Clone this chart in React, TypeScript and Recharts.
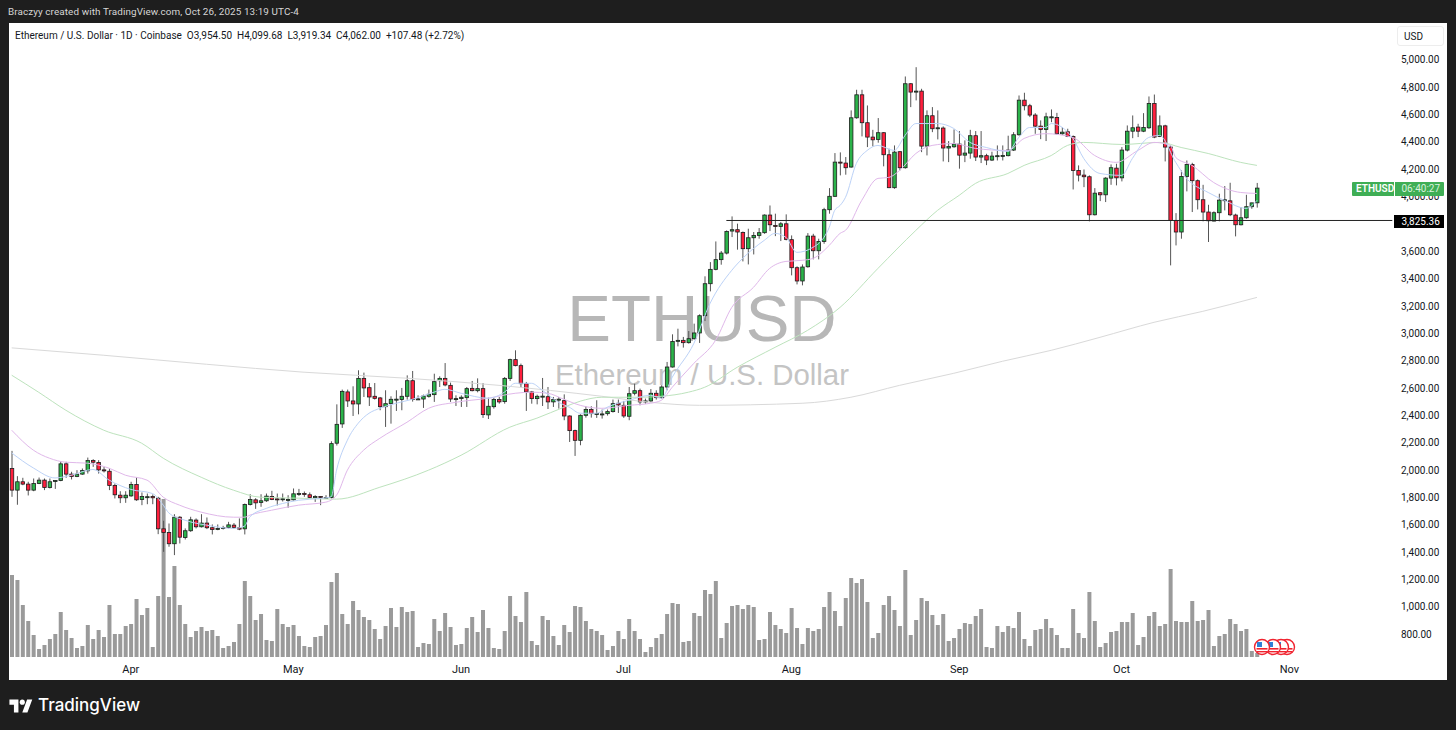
import { Bar, ComposedChart, Line, ReferenceLine, XAxis, YAxis } from 'recharts';

const opens = [
  2012,1854,1915,1898,1854,1902,1927,1873,1917,1924,
  2046,1971,1954,1971,1995,2070,2056,2002,1992,1888,
  1817,1798,1812,1895,1785,1805,1807,1795,1571,1544,
  1462,1656,1508,1557,1635,1586,1613,1579,1569,1574,
  1581,1598,1579,1571,1749,1783,1764,1776,1807,1790,
  1790,1785,1783,1829,1829,1820,1798,1807,1800,1800,
  2197,2338,2572,2506,2484,2671,2603,2540,2528,2464,
  2486,2518,2516,2540,2654,2520,2520,2540,2552,2654,
  2671,2620,2523,2523,2530,2598,2581,2596,2404,2464,
  2516,2501,2671,2808,2764,2632,2572,2523,2540,2537,
  2499,2518,2508,2396,2289,2218,2401,2443,2413,2411,
  2413,2428,2489,2474,2394,2562,2581,2499,2506,2562,
  2530,2608,2754,2942,2949,2932,2961,3003,3129,3363,
  3468,3539,3587,3748,3758,3738,3619,3699,3716,3736,
  3865,3789,3782,3801,3685,3480,3383,3487,3711,3604,
  3672,3904,4002,4252,4245,4216,4576,4744,4540,4435,
  4418,4467,4306,4065,4328,4211,4825,4771,4771,4369,
  4591,4503,4501,4355,4364,4384,4303,4318,4445,4289,
  4299,4267,4299,4301,4299,4340,4452,4705,4664,4596,
  4515,4491,4583,4578,4459,4474,4439,4191,4157,4145,
  3867,4028,4013,4135,4208,4137,4340,4478,4508,4478,
  4503,4681,4439,4517,4362,3826,3741,4147,4235,4116,
  3977,3887,3821,3882,3977,3969,3865,3794,3845,3926,3954.5,
];
const highs = [
  2141,1956,1944,1915,1939,1946,1939,1939,1927,2066,
  2061,1988,2000,2012,2092,2080,2073,2024,2012,1902,
  1846,1846,1915,1946,1837,1829,1822,1805,1630,1610,
  1678,1664,1574,1659,1647,1678,1654,1603,1603,1593,
  1622,1613,1647,1756,1824,1795,1824,1829,1849,1829,
  1829,1817,1866,1863,1844,1837,1817,1810,1817,2211,
  2481,2589,2589,2613,2730,2713,2637,2637,2535,2584,
  2540,2584,2601,2693,2725,2547,2552,2589,2705,2686,
  2783,2640,2547,2547,2608,2652,2671,2637,2530,2530,
  2535,2681,2815,2876,2779,2645,2579,2552,2674,2608,
  2535,2535,2554,2401,2296,2408,2467,2467,2511,2443,
  2443,2516,2516,2506,2608,2632,2596,2523,2593,2584,
  2621,2791,2993,3034,2974,3017,3071,3139,3417,3521,
  3672,3602,3753,3855,3802,3745,3765,3741,3770,3870,
  3935,3875,3814,3870,3716,3490,3504,3733,3728,3692,
  3918,4062,4318,4323,4289,4630,4781,4781,4666,4488,
  4574,4471,4350,4374,4333,4878,4829,4946,4788,4630,
  4654,4630,4513,4406,4491,4479,4411,4488,4479,4479,
  4313,4328,4374,4374,4445,4471,4739,4759,4678,4610,
  4557,4613,4637,4612,4508,4496,4447,4228,4198,4155,
  4062,4033,4142,4235,4240,4362,4520,4593,4532,4610,
  4732,4746,4593,4525,4374,3879,4191,4264,4247,4125,
  4086,3940,3892,4021,4077,4101,3875,3923,4013,3955,4099.68,
];
const lows = [
  1805,1747,1890,1815,1846,1898,1854,1866,1863,1919,
  1944,1932,1949,1966,1975,2024,1975,1983,1854,1793,
  1759,1761,1805,1776,1744,1751,1751,1532,1403,1440,
  1379,1464,1493,1549,1574,1581,1569,1530,1561,1566,
  1574,1571,1561,1530,1742,1717,1732,1768,1781,1742,
  1771,1725,1778,1812,1805,1793,1768,1744,1793,1793,
  2180,2309,2462,2396,2408,2535,2469,2516,2438,2316,
  2340,2433,2438,2516,2501,2516,2455,2530,2499,2608,
  2613,2499,2469,2462,2462,2576,2569,2382,2374,2450,
  2486,2486,2652,2759,2608,2433,2486,2481,2469,2447,
  2462,2450,2365,2206,2104,2182,2384,2384,2382,2377,
  2399,2421,2418,2382,2365,2547,2474,2486,2496,2516,
  2523,2584,2750,2905,2896,2925,2954,2930,3090,3307,
  3461,3502,3577,3704,3612,3526,3504,3577,3692,3728,
  3748,3711,3675,3680,3424,3358,3351,3480,3541,3541,
  3655,3875,3997,4155,4160,4211,4569,4440,4362,4367,
  4394,4221,4062,4057,4191,4204,4654,4703,4325,4301,
  4471,4418,4257,4252,4357,4204,4252,4277,4260,4245,
  4230,4260,4264,4264,4294,4333,4445,4630,4581,4459,
  4420,4406,4544,4452,4452,4435,4052,4111,4069,3819,
  3862,3967,3960,4086,4082,4111,4330,4427,4435,4471,
  4495,4427,4435,4257,3497,3643,3692,4038,3887,3906,
  3819,3668,3819,3819,3899,3857,3709,3789,3838,3911,3919.34,
];
const closes = [
  1854,1915,1898,1854,1902,1927,1873,1915,1924,2046,
  1971,1954,1971,1997,2070,2058,2002,1995,1888,1820,
  1798,1817,1895,1783,1807,1806,1798,1571,1544,1462,
  1656,1510,1557,1637,1586,1613,1579,1566,1574,1581,
  1600,1581,1569,1749,1785,1761,1776,1810,1785,1785,
  1791,1786,1827,1829,1822,1800,1807,1806,1800,2194,
  2335,2576,2506,2484,2671,2601,2535,2525,2464,2486,
  2518,2519,2540,2654,2516,2521,2542,2555,2647,2671,
  2623,2520,2523,2533,2596,2581,2596,2406,2467,2516,
  2499,2671,2808,2764,2632,2572,2523,2540,2541,2499,
  2516,2519,2396,2289,2218,2401,2443,2413,2414,2411,
  2428,2486,2477,2396,2559,2581,2499,2506,2562,2530,
  2608,2754,2940,2949,2932,2961,3003,3129,3363,3468,
  3539,3587,3745,3758,3741,3619,3699,3716,3736,3865,
  3794,3784,3801,3687,3480,3383,3485,3711,3604,3672,
  3904,4002,4252,4245,4211,4576,4744,4540,4435,4415,
  4467,4306,4065,4325,4211,4825,4764,4771,4369,4591,
  4496,4503,4355,4367,4384,4303,4318,4445,4289,4299,
  4267,4296,4299,4301,4340,4452,4705,4664,4596,4515,
  4491,4583,4583,4459,4471,4439,4191,4157,4145,3867,
  4025,4013,4135,4211,4137,4340,4478,4503,4478,4505,
  4681,4435,4517,4362,3826,3741,4147,4235,4116,3977,
  3887,3823,3882,3974,3977,3867,3794,3845,3926,3954,4062,
];
const volumes = [
  82,77,52,36,22,8,12,18,23,45,
  27,19,9,11,32,18,27,20,52,23,
  23,31,33,58,42,49,10,61,158,60,
  91,52,33,20,26,30,26,27,21,9,
  11,15,33,76,61,37,43,17,16,48,
  33,30,32,21,11,10,20,21,32,75,
  84,43,33,56,47,40,37,28,18,31,
  49,30,50,45,46,10,14,13,38,26,
  44,30,12,13,29,40,25,47,29,9,
  8,26,61,41,35,65,16,12,41,37,
  21,12,32,25,51,50,36,28,26,22,
  7,11,26,18,38,26,18,5,10,19,
  23,43,54,53,15,16,44,41,67,63,
  76,19,34,51,52,48,52,50,17,18,
  45,32,28,24,49,29,13,29,26,28,
  50,65,46,31,59,79,74,78,55,19,
  24,52,61,47,31,87,22,37,59,56,
  42,32,43,16,19,28,34,33,41,48,
  10,9,31,25,31,29,45,18,11,27,
  28,38,29,22,9,9,48,24,19,65,
  36,10,14,25,26,35,35,44,12,20,
  41,45,31,33,88,36,35,35,56,36,
  37,47,11,21,23,38,33,26,28,6,4,
];

// moving averages at the days listed
const fastDays = [0,4,8,11,15,18,22,26,28,29,32,36,41,43,44,47,50,53,57,59,60,62,64,66,68,71,74,78,80,83,88,91,93,96,98,101,103,105,108,110,114,118,120,122,126,129,133,135,139,141,143,145,148,150,151,152,153,154,156,158,160,163,165,167,171,174,177,180,184,186,188,191,192,196,198,201,205,207,210,212,215,217,221,224,228,230];
const fastValues = [2126,2016,1943,1963,2005,1927,1859,1829,1744,1688,1634,1598,1574,1591,1659,1720,1756,1780,1793,1805,2000,2219,2343,2416,2452,2489,2518,2570,2591,2562,2526,2570,2635,2635,2584,2496,2460,2416,2416,2460,2511,2547,2526,2679,2927,3220,3461,3548,3680,3731,3702,3592,3629,3700,3775,3899,3935,3994,4242,4337,4374,4337,4447,4534,4534,4498,4396,4359,4330,4432,4505,4505,4534,4425,4279,4169,4155,4279,4432,4447,4250,4133,4030,3972,3914,3972];
const midDays = [0,4,7,10,14,18,21,25,28,31,35,41,43,44,48,53,58,60,62,65,68,73,77,82,88,93,96,99,102,105,109,114,118,120,122,126,130,133,137,140,143,146,148,151,153,154,157,160,162,164,167,170,174,178,184,187,191,196,200,204,208,211,214,215,218,222,227,230];
const midValues = [2292,2146,2087,2058,2051,2014,1963,1927,1802,1744,1693,1656,1656,1671,1707,1744,1766,1817,2000,2146,2233,2350,2452,2496,2526,2562,2570,2562,2518,2474,2452,2474,2489,2511,2606,2781,2949,3190,3336,3475,3526,3534,3548,3643,3731,3753,3972,4133,4140,4191,4315,4374,4388,4352,4337,4425,4460,4432,4301,4250,4337,4396,4374,4286,4228,4103,4030,4023];
const slowDays = [0,5,10,17,24,28,35,41,46,53,60,68,77,83,92,97,102,105,109,112,116,120,125,128,134,141,147,153,160,167,171,175,178,184,187,192,195,198,205,212,216,221,227,230];
const slowValues = [2694,2569,2438,2292,2197,2087,1948,1853,1802,1795,1788,1875,2000,2109,2314,2380,2460,2504,2533,2533,2533,2540,2570,2606,2752,2898,3022,3190,3475,3753,3899,4009,4096,4169,4228,4300,4374,4396,4381,4396,4359,4315,4250,4228];
const longDays = [0,17,36,54,73,90,109,118,127,146,155,164,174,183,192,201,211,220,230];
const longValues = [2894,2840,2774,2716,2672,2620,2540,2496,2474,2489,2533,2620,2708,2796,2876,2971,3081,3161,3263];

const priceTicks = [800,1000,1200,1400,1600,1800,2000,2200,2400,2600,2800,3000,3200,3400,3600,4000,4200,4400,4600,4800,5000];
const monthDays = [22,52,83,113,144,175,205,236];
const monthLabels = ['Apr','May','Jun','Jul','Aug','Sep','Oct','Nov'];
const levelPrice = 3825.36;
const levelStartDay = 132;
const rowCount = 256;

const pick = (days: number[], values: number[], day: number) => {
  const at = days.indexOf(day);
  return at < 0 ? null : values[at];
};

const rows = Array.from({ length: rowCount }, (_, day) => ({
  day,
  open: opens[day],
  high: highs[day],
  low: lows[day],
  close: closes[day],
  range: day < opens.length ? [lows[day], highs[day]] : null,
  volume: day < volumes.length ? volumes[day] : null,
  fast: pick(fastDays, fastValues, day),
  mid: pick(midDays, midValues, day),
  slow: pick(slowDays, slowValues, day),
  long: pick(longDays, longValues, day),
}));

const UI_FONT = 'Roboto, Arial, sans-serif';
const INK = '#131722';

function Candle(props: any) {
  const { x, y, width, height, payload } = props;
  if (!payload || payload.range == null || !Number.isFinite(y)) return null;
  const { open, high, low, close } = payload;
  const perUnit = Math.abs(height) / (high - low);
  const top = y + (high - Math.max(open, close)) * perUnit;
  const bodyHeight = Math.max(Math.abs(open - close) * perUnit, 1);
  const mid = x + width / 2;
  return (
    <g>
      <line x1={mid} x2={mid} y1={y} y2={y + Math.abs(height)} stroke="#555" strokeWidth={1} />
      <rect
        x={x + 0.25}
        y={top}
        width={width - 0.5}
        height={bodyHeight}
        fill={close >= open ? '#2bb34a' : '#ff1f3d'}
        stroke="#1c1c1c"
        strokeWidth={0.8}
      />
    </g>
  );
}

function FlagBadge({ cx }: { cx: number }) {
  return (
    <g>
      <circle cx={cx} cy={9} r={7.5} fill="#fff" stroke="#f0232f" strokeWidth={1.4} />
      <rect x={cx - 5.5} y={10} width={11} height={1.6} fill="#f0232f" />
      <rect x={cx - 5} y={13} width={10} height={1.4} fill="#f0232f" />
      <rect x={cx - 5} y={4} width={5} height={5} fill="#2f7fd6" />
    </g>
  );
}

const boxText = (left: number, top: number, extra: any = {}) => ({
  position: 'absolute' as const,
  left,
  top,
  fontFamily: UI_FONT,
  whiteSpace: 'nowrap' as const,
  ...extra,
});

export default function App() {
  return (
    <div style={{ position: 'absolute', left: 0, top: 0, width: 1456, height: 730, background: '#1e1e1e', overflow: 'hidden' }}>
      <div style={boxText(8, 6, { fontSize: 9.9, color: '#d6d6d6', letterSpacing: 0.1 })}>
        Braczyy created with TradingView.com, Oct 26, 2025 13:19 UTC-4
      </div>

      <div style={{ position: 'absolute', left: 9, top: 23, width: 1438, height: 657, background: '#fff' }} />

      <div style={boxText(0, 280, { left: 9, width: 1386, textAlign: 'center', fontFamily: 'Liberation Sans', fontSize: 65.5, lineHeight: '78px', color: '#b7b7b7' })}>
        ETHUSD
      </div>
      <div style={boxText(0, 357, { left: 9, width: 1386, textAlign: 'center', fontFamily: 'Liberation Sans', fontSize: 29.4, lineHeight: '36px', color: '#c4c4c4' })}>
        Ethereum / U.S. Dollar
      </div>

      <div style={{ position: 'absolute', left: 9, top: 23 }}>
        <ComposedChart width={1438} height={657} data={rows} margin={{ top: 0, right: 0, bottom: 0, left: 0 }}>
          <XAxis
            dataKey="day"
            ticks={monthDays}
            interval={0}
            height={23}
            axisLine={false}
            tickLine={false}
            tickMargin={2}
            tick={{ fontSize: 11, fontFamily: UI_FONT, fill: INK }}
            tickFormatter={(day: number) => monthLabels[monthDays.indexOf(day)]}
          />
          <XAxis xAxisId="vol" dataKey="day" hide />
          <YAxis
            yAxisId="price"
            orientation="right"
            width={52}
            domain={[634, 5269]}
            ticks={priceTicks}
            interval={0}
            axisLine={false}
            tickLine={false}
            tickMargin={0}
            tick={{ fontSize: 10, fontFamily: UI_FONT, fill: INK }}
            tickFormatter={(v: number) => v.toLocaleString('en-US', { minimumFractionDigits: 2 })}
          />
          <YAxis yAxisId="vol" hide domain={[0, 634]} />

          <Bar xAxisId="vol" yAxisId="vol" dataKey="volume" barSize={4} fill="#9a9a9a" isAnimationActive={false} />

          <Line yAxisId="price" dataKey="long" type="monotone" connectNulls dot={false} stroke="#d9d9d9" strokeWidth={1} isAnimationActive={false} />
          <Line yAxisId="price" dataKey="slow" type="monotone" connectNulls dot={false} stroke="#bde3bd" strokeWidth={1} isAnimationActive={false} />
          <Line yAxisId="price" dataKey="mid" type="monotone" connectNulls dot={false} stroke="#e0b8ea" strokeWidth={1} isAnimationActive={false} />
          <Line yAxisId="price" dataKey="fast" type="monotone" connectNulls dot={false} stroke="#bcd2f7" strokeWidth={1} isAnimationActive={false} />

          <ReferenceLine
            yAxisId="price"
            segment={[{ x: levelStartDay, y: levelPrice }, { x: rowCount - 1, y: levelPrice }]}
            stroke="#222"
            strokeWidth={1}
          />

          <Bar yAxisId="price" dataKey="range" barSize={4} shape={<Candle />} isAnimationActive={false} />
        </ComposedChart>
      </div>

      <div style={boxText(15, 30, { fontSize: 10, color: INK })}>
        Ethereum / U.S. Dollar · 1D · Coinbase&nbsp;&nbsp;O3,954.50&nbsp;&nbsp;H4,099.68&nbsp;&nbsp;L3,919.34&nbsp;&nbsp;C4,062.00&nbsp;&nbsp;+107.48 (+2.72%)
      </div>

      <div style={boxText(1397, 26, { width: 47, height: 20, border: '1px solid #ededed', borderRadius: 3, boxSizing: 'border-box', fontSize: 10, lineHeight: '19px', textAlign: 'center', color: INK, paddingRight: 14 })}>
        USD
      </div>

      <div style={{ position: 'absolute', left: 1352, top: 182, width: 92, height: 14, background: '#3fae55', borderRadius: 1 }} />
      <div style={{ position: 'absolute', left: 1394, top: 182, width: 1, height: 14, background: '#fff' }} />
      <div style={boxText(1356, 182, { fontSize: 10, lineHeight: '14px', fontWeight: 600, color: '#fff' })}>ETHUSD</div>
      <div style={boxText(1401.5, 182, { fontSize: 10, lineHeight: '14px', color: '#d9f2de' })}>06:40:27</div>

      <div style={boxText(1394, 215, { width: 50, height: 13, background: '#000', color: '#fff', fontSize: 10, lineHeight: '13px', textAlign: 'left', paddingLeft: 7.5, boxSizing: 'border-box' })}>
        3,825.36
      </div>

      <svg style={{ position: 'absolute', left: 1250, top: 638 }} width={48} height={18}>
        <FlagBadge cx={37} />
        <FlagBadge cx={31} />
        <FlagBadge cx={23} />
        <FlagBadge cx={12} />
      </svg>

      <svg style={{ position: 'absolute', left: 9, top: 697 }} width={24} height={18} viewBox="0 0 36 28">
        <path d="M14 24H7V12H0V4h14v20zM28 24h-8l7.5-20h8L28 24z" fill="#fff" />
        <circle cx="20" cy="8" r="4" fill="#fff" />
      </svg>
      <div style={boxText(38, 695, { fontSize: 17, lineHeight: '20px', fontWeight: 500, color: '#fff', fontFamily: 'Inter, Roboto, sans-serif' })}>
        TradingView
      </div>
    </div>
  );
}
